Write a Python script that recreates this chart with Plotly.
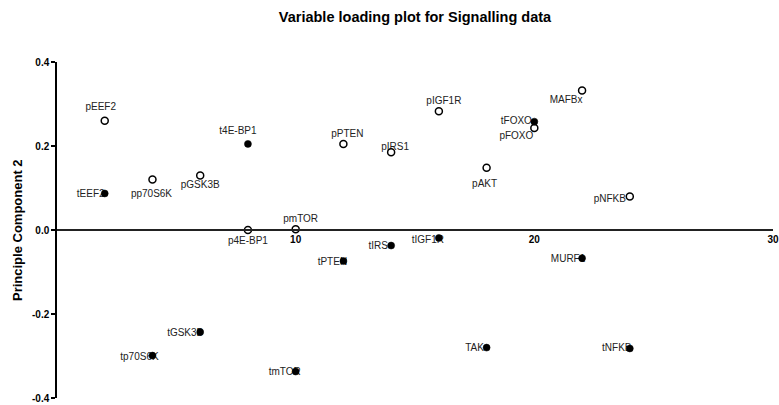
import plotly.graph_objects as go

# Loadings on principal components for each measured protein
open_names = ["pEEF2", "pp70S6K", "pGSK3B", "p4E-BP1", "pmTOR", "pPTEN",
              "pIRS1", "pIGF1R", "pAKT", "pFOXO", "MAFBx", "pNFKB"]
open_x = [2, 4, 6, 8, 10, 12, 14, 16, 18, 20, 22, 24]
open_y = [0.26, 0.12, 0.13, 0.0, 0.002, 0.205, 0.185, 0.283, 0.148, 0.243, 0.332, 0.08]

filled_names = ["tEEF2", "tp70S6K", "tGSK3B", "t4E-BP1", "tmTOR", "tPTEN",
                "tIRS", "tIGF1R", "TAK", "tFOXO", "MURF1", "tNFKB"]
filled_x = [2, 4, 6, 8, 10, 12, 14, 16, 18, 20, 22, 24]
filled_y = [0.087, -0.299, -0.243, 0.205, -0.337, -0.074, -0.037, -0.019, -0.28, 0.258, -0.067, -0.282]

y_tick_vals = [0.4, 0.2, 0.0, -0.2, -0.4]
y_tick_text = ["0.4", "0.2", "0.0", "-0.2", "-0.4"]
x_tick_vals = [10, 20, 30]
x_tick_text = ["10", "20", "30"]

# Label offsets from each marker, in screen pixels (right, up)
open_offsets = [(-4, 13), (-1, -15), (0, -10), (0, -11), (5, 10), (4, 9),
                (4, 5), (5, 10), (-2, -17), (-18, -9), (-16, -10), (-20, -3)]
filled_offsets = [(-14, -1), (-13, -2), (-15, -1), (-10, 12), (-11, -1), (-11, -1),
                  (-13, -1), (-11, -3), (-12, -1), (-18, 0), (-14, -1), (-13, 0)]

W, H = 779, 405
ML, MR, MT, MB = 57, 6, 62, 7
XR = (0, 30)
YR = (-0.4, 0.4)
px_x = (XR[1] - XR[0]) / (W - ML - MR)
px_y = (YR[1] - YR[0]) / (H - MT - MB)

FONT = "Liberation Sans, Arial, Helvetica, sans-serif"


def label_trace(names, xs, ys, offsets):
    lx = [x + dx * px_x for x, (dx, dy) in zip(xs, offsets)]
    ly = [y + dy * px_y for y, (dx, dy) in zip(ys, offsets)]
    return go.Scatter(x=lx, y=ly, text=names, mode="text",
                      textposition="middle center",
                      textfont=dict(family=FONT, size=10, color="#222"),
                      hoverinfo="skip", showlegend=False, cliponaxis=False)


fig = go.Figure()
fig.add_trace(label_trace(open_names, open_x, open_y, open_offsets))
fig.add_trace(label_trace(filled_names, filled_x, filled_y, filled_offsets))

fig.add_trace(go.Scatter(
    x=open_x, y=open_y, text=open_names, mode="markers",
    marker=dict(symbol="circle", size=7, color="white",
                line=dict(color="black", width=1.5)),
    showlegend=False, cliponaxis=False))
fig.add_trace(go.Scatter(
    x=filled_x, y=filled_y, text=filled_names, mode="markers",
    marker=dict(symbol="circle", size=7, color="black",
                line=dict(color="black", width=0.5)),
    showlegend=False, cliponaxis=False))

fig.update_layout(
    width=W, height=H,
    margin=dict(l=ML, r=MR, t=MT, b=MB, autoexpand=False),
    paper_bgcolor="white", plot_bgcolor="white",
    font=dict(family=FONT, color="black"),
    title=dict(text="<b>Variable loading plot for Signalling data</b>",
               x=415 / W, xanchor="center", xref="container",
               y=1 - 17 / H, yanchor="middle", yref="container",
               font=dict(family=FONT, size=14.5, color="black")),
    xaxis=dict(range=list(XR), showgrid=False, zeroline=False,
               showline=True, linecolor="#222", linewidth=2,
               anchor="free", position=0.5, automargin=False,
               tickvals=x_tick_vals, ticktext=x_tick_text, ticks="",
               tickfont=dict(family=FONT, size=10, color="black", weight="bold")),
    yaxis=dict(range=list(YR), showgrid=False, zeroline=False,
               showline=True, linecolor="black", linewidth=1.5, automargin=False,
               tickvals=y_tick_vals, ticktext=y_tick_text,
               ticks="outside", ticklen=4, tickwidth=1.5, tickcolor="black",
               tickfont=dict(family=FONT, size=10, color="black", weight="bold")),
    annotations=[dict(text="<b>Principle Component 2</b>", textangle=-90,
                      xref="paper", yref="paper", x=(17 - ML) / (W - ML - MR), y=0.5,
                      xanchor="center", yanchor="middle", showarrow=False,
                      font=dict(family=FONT, size=13, color="black"))],
)

fig.write_html("out.html")
